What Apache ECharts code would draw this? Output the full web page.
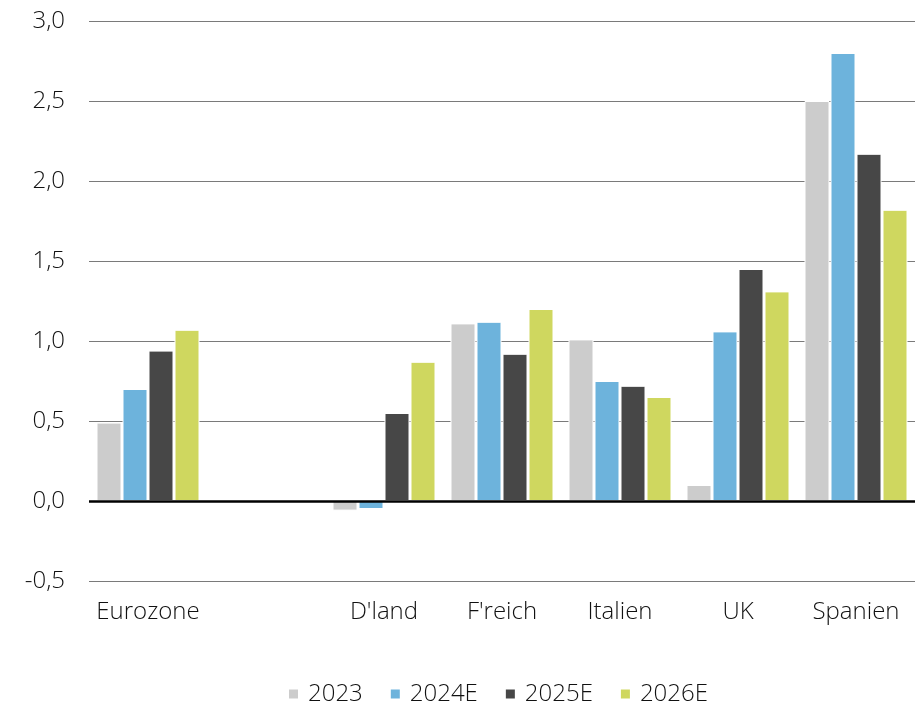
<!DOCTYPE html>
<html>
<head>
<meta charset="utf-8">
<script src="https://cdn.jsdelivr.net/npm/echarts@6/dist/echarts.min.js"></script>
<style>
  html, body { margin: 0; padding: 0; background: #fff; }
  #chart { width: 920px; height: 706px; }
</style>
</head>
<body>
<div id="chart"></div>
<script>
// Regions (the second slot is left empty on purpose)
const categories = ['Eurozone', '', "D'land", "F'reich", 'Italien', 'UK', 'Spanien'];
const seriesNames = ['2023', '2024E', '2025E', '2026E'];
const values2023  = [0.49, null, -0.06, 1.11, 1.01, 0.10, 2.50];
const values2024E = [0.70, null, -0.05, 1.12, 0.75, 1.06, 2.80];
const values2025E = [0.94, null,  0.55, 0.92, 0.72, 1.45, 2.17];
const values2026E = [1.07, null,  0.87, 1.20, 0.65, 1.31, 1.82];
const yTicks = [-0.5, 0, 0.5, 1.0, 1.5, 2.0, 2.5, 3.0];

const colors = ['#cccccc', '#6db3dc', '#474747', '#cfd75f'];
const allValues = [values2023, values2024E, values2025E, values2026E];
const FONT = 'Open Sans';
const FONT_SIZE = 24;
const TEXT_COLOR = '#111';

const chart = echarts.init(document.getElementById('chart'));

const series = seriesNames.map((name, i) => {
  const s = {
    name: name,
    type: 'bar',
    data: allValues[i],
    barWidth: 25,
    barGap: '4%',
    itemStyle: { color: colors[i], borderColor: '#ffffff', borderWidth: 1 },
    emphasis: { disabled: true }
  };
  if (i === seriesNames.length - 1) {
    // zero baseline drawn over the bars
    s.markLine = {
      silent: true,
      symbol: ['none', 'none'],
      label: { show: false },
      lineStyle: { color: '#000000', width: 2.5, type: 'solid' },
      emphasis: { disabled: true },
      data: [{ yAxis: 0 }]
    };
  }
  return s;
});

chart.setOption({
  animation: false,
  color: colors,
  textStyle: { fontFamily: FONT },
  grid: { left: 89, right: 5, top: 21, bottom: 125, containLabel: false },
  legend: {
    data: seriesNames,
    top: 677,
    left: 282,
    icon: 'rect',
    itemWidth: 11,
    itemHeight: 11,
    itemGap: 26,
    textStyle: { fontFamily: FONT, fontSize: FONT_SIZE, fontWeight: 300, color: TEXT_COLOR, padding: [0, 0, 0, 4] }
  },
  xAxis: {
    type: 'category',
    data: categories,
    axisLine: { show: false, onZero: false },
    axisTick: { show: false },
    axisLabel: { fontFamily: FONT, fontSize: FONT_SIZE, fontWeight: 300, color: TEXT_COLOR, margin: 19, interval: 0 },
    splitLine: { show: false }
  },
  yAxis: {
    type: 'value',
    min: yTicks[0],
    max: yTicks[yTicks.length - 1],
    interval: 0.5,
    axisLine: { show: false },
    axisTick: { show: false },
    axisLabel: {
      fontFamily: FONT, fontSize: FONT_SIZE, fontWeight: 300, color: TEXT_COLOR, margin: 24,
      formatter: v => v.toFixed(1).replace('.', ',')
    },
    splitLine: { lineStyle: { color: '#7a7a7a', width: 1 } }
  },
  series: series
});
</script>
</body>
</html>
